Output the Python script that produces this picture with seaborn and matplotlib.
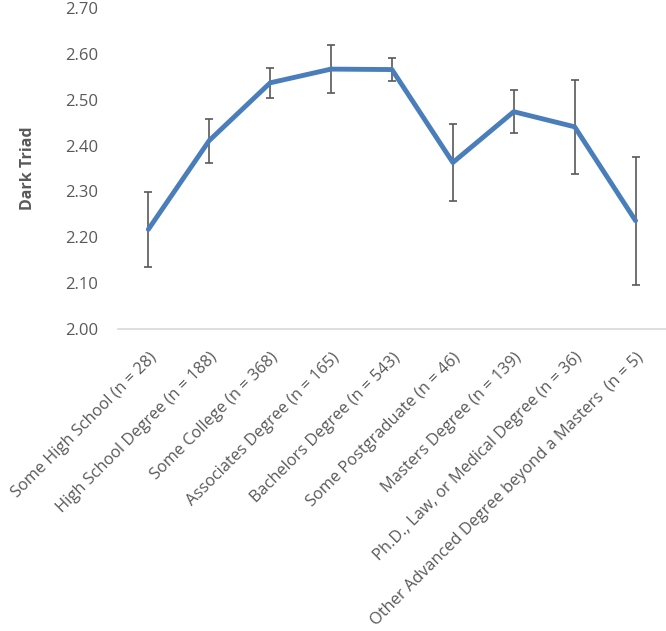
import matplotlib
matplotlib.use('Agg')
import matplotlib.pyplot as plt
import seaborn as sns
import pandas as pd

# Data
categories = [
    'Some High School (n = 28)',
    'High School Degree (n = 188)',
    'Some College (n = 368)',
    'Associates Degree (n = 165)',
    'Bachelors Degree (n = 543)',
    'Some Postgraduate (n = 46)',
    'Masters Degree (n = 139)',
    'Ph.D., Law, or Medical Degree (n = 36)',
    'Other Advanced Degree beyond a Masters  (n = 5)',
]
means = [2.217, 2.411, 2.537, 2.567, 2.566, 2.363, 2.474, 2.441, 2.236]
errors = [0.082, 0.048, 0.033, 0.052, 0.026, 0.084, 0.047, 0.103, 0.140]
y_ticks = [2.00, 2.10, 2.20, 2.30, 2.40, 2.50, 2.60, 2.70]

df = pd.DataFrame({'cat': categories, 'mean': means, 'err': errors})
df['pos'] = range(len(df))

sns.set_theme(style='white')
plt.rcParams['font.family'] = ['Open Sans', 'DejaVu Sans']

fig = plt.figure(figsize=(6.66, 6.31), dpi=100)
ax = fig.add_axes([0.177, 0.479, 0.823, 0.508])

text_col = '#595959'

ax.errorbar(df['pos'], df['mean'], yerr=df['err'], fmt='none',
            ecolor=text_col, elinewidth=1.2, capsize=3, capthick=1.2, zorder=2)
sns.lineplot(data=df, x='pos', y='mean', ax=ax, color='#4A7EBB',
             linewidth=3.5, zorder=3)

ax.set_xlim(-0.5, len(df) - 0.5)
ax.set_ylim(2.0, 2.7)
ax.set_yticks(y_ticks)
ax.set_yticklabels([f'{v:.2f}' for v in y_ticks], fontsize=12, color=text_col)
ax.set_xticks(df['pos'])
ax.set_xticklabels(df['cat'], rotation=45, ha='right', rotation_mode='anchor',
                   fontsize=11.8, color=text_col)
ax.tick_params(axis='both', length=0)
ax.tick_params(axis='y', pad=14)
ax.tick_params(axis='x', pad=15)
ax.set_xlabel('')
ax.set_ylabel('Dark Triad', fontsize=11.5, fontweight='bold', color=text_col,
              labelpad=21)

for s in ['top', 'right', 'left']:
    ax.spines[s].set_visible(False)
ax.spines['bottom'].set_color('#D9D9D9')
ax.spines['bottom'].set_linewidth(1.2)

fig.savefig('out.png', dpi=100)
